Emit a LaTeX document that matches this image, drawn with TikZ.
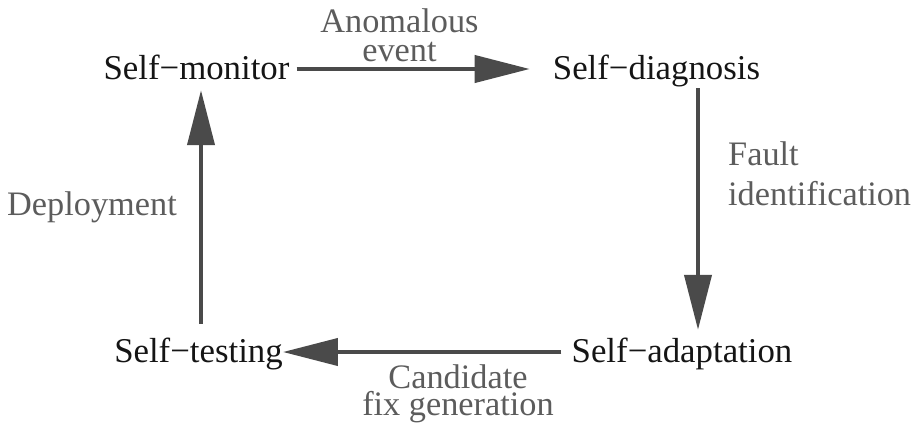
\documentclass[tikz,border=0pt]{standalone}
\usepackage{fontspec}
\setmainfont{Liberation Serif}
\usetikzlibrary{arrows.meta}
\definecolor{stagetext}{HTML}{151515}
\definecolor{labeltext}{HTML}{5C5C5C}
\definecolor{flowline}{HTML}{4A4A4A}
\begin{document}
\begin{tikzpicture}[x=1pt,y=-1pt,
  stage/.style={inner sep=0pt, text height=20pt, text depth=0pt,
    text=stagetext, font=\fontsize{34.8}{40}\selectfont},
  flowlabel/.style={inner sep=0pt, text=labeltext},
  flow/.style={draw=flowline, line width=4pt,
    -{Triangle[length=55pt,width=27pt]}}]
\useasboundingbox (0,0) rectangle (919,429);

% the four stages of the loop
\node[stage, anchor=base] (mon)   at (196.5,79) {Self−monitor};
\node[stage, anchor=base] (diag)  at (656.5,79) {Self−diagnosis};
\node[stage, anchor=base] (test)  at (198.5,362) {Self−testing};
\node[stage, anchor=base] (adapt) at (682,362) {Self−adaptation};

% transitions
\draw[flow, shorten <=7pt, shorten >=23pt] (mon.east) -- (diag.west);
\draw[flow, shorten <=9pt, shorten >=12pt]
  ([xshift=41.5pt]diag.south) -- ([xshift=41.5pt]diag.south |- adapt.north);
\draw[flow, shorten <=10pt] (adapt.west) -- (test.east);
\draw[flow, shorten <=18pt, shorten >=11pt]
  ([xshift=4.5pt]mon.south |- test.north) -- ([xshift=4.5pt]mon.south);

% transition labels (base anchor sits on the last line)
\node[flowlabel, anchor=base, align=center,
  font=\fontsize{34.3}{29}\selectfont] (lanom) at (399.5,61)
  {Anomalous\\event};
\node[flowlabel, anchor=base west, align=left,
  font=\fontsize{34.3}{40}\selectfont] (lfault) at (728,205)
  {Fault\\identification};
\node[flowlabel, anchor=base, align=center,
  font=\fontsize{34.3}{27}\selectfont] (lcand) at (458,415)
  {Candidate\\fix generation};
\node[flowlabel, anchor=base,
  font=\fontsize{34.3}{40}\selectfont] (ldeploy) at (92,215)
  {Deployment};
\end{tikzpicture}
\end{document}
